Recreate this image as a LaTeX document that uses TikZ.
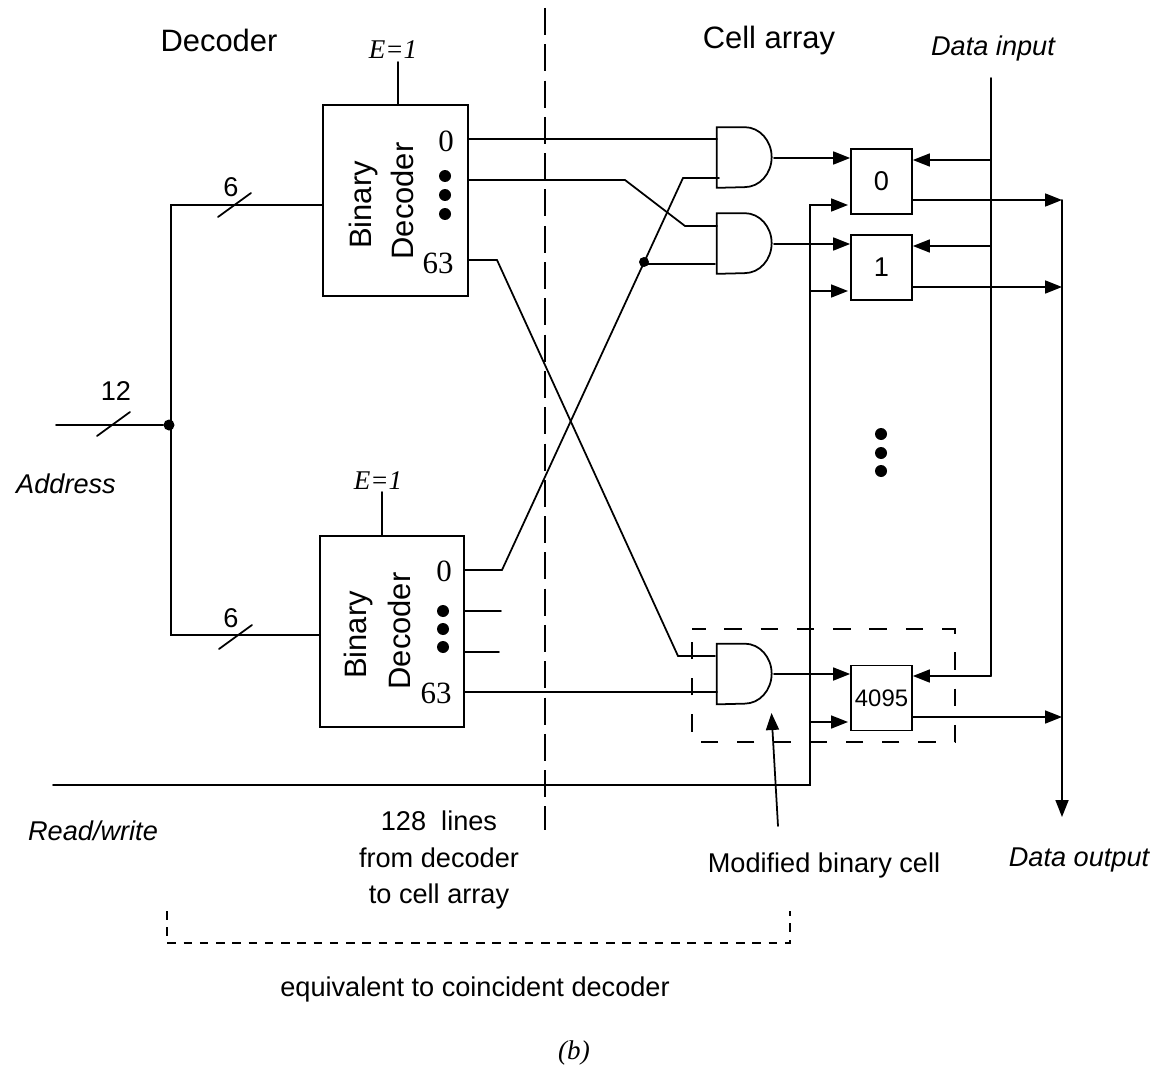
\documentclass[tikz,border=0pt]{standalone}
\usepackage{fontspec}
\setmainfont{Liberation Sans}
\newfontfamily\timesfont{Liberation Serif}
\usetikzlibrary{arrows.meta}
\newcommand{\bigtext}{\fontsize{17.6pt}{21pt}\selectfont}
\newcommand{\midtext}{\fontsize{15.45pt}{20.8pt}\selectfont}
\newcommand{\smalltext}{\fontsize{13.6pt}{16pt}\selectfont}
\newcommand{\numtext}{\fontsize{17.6pt}{20pt}\selectfont\timesfont}
\newcommand{\enabletext}{\fontsize{15.4pt}{18pt}\selectfont\timesfont\itshape}
\newcommand{\andshape}[1]{\draw[wire] (#1.north west) -- ++(28,0)
  arc[start angle=90,end angle=-90,x radius=0.54cm,y radius=0.6cm] -- (#1.south west) -- cycle;}
\tikzset{
  wire/.style={line width=1pt,line cap=round},
  arrowwire/.style={wire,-{Triangle[length=0.34cm,width=0.26cm]}},
  decoderbox/.style={draw,line width=1pt,minimum width=2.9cm,minimum height=3.82cm,inner sep=0pt},
  cellbox/.style={draw,line width=1pt,minimum width=1.22cm,minimum height=1.3cm,inner sep=0pt},
  andbox/.style={minimum width=1.1cm,minimum height=1.2cm,inner sep=0pt},
  junction/.style={circle,fill,inner sep=0pt,minimum size=0.22cm},
  blob/.style={circle,fill,inner sep=0pt,minimum size=0.24cm},
  splitdash/.style={line width=1pt,dash pattern=on 0.54cm off 0.186cm},
  celldash/.style={line width=1pt,dash pattern=on 0.35cm off 0.376cm,dash phase=0.08cm},
  bracedash/.style={line width=1pt,dash pattern=on 0.17cm off 0.155cm},
}
\begin{document}
\begin{tikzpicture}[x=0.02cm,y=-0.02cm]
  \useasboundingbox (0,0) rectangle (1157,1068);
  % decoders
  \node[decoderbox] (dectop) at (395.5,200.5) {};
  \node[decoderbox,minimum width=2.88cm] (decbot) at (392,631.5) {};
  \node[rotate=90,font=\bigtext] (binarytop) at (364,205) {Binary};
  \node[rotate=90,font=\bigtext] (codertop) at (402,201) {Decoder};
  \node[rotate=90,font=\bigtext] (binarybot) at (359,635) {Binary};
  \node[rotate=90,font=\bigtext] (coderbot) at (399,631) {Decoder};
  \node[font=\numtext] (zerotop) at (446,141) {0};
  \node[font=\numtext] (lasttop) at (438,263) {63};
  \node[font=\numtext] (zerobot) at (444,571) {0};
  \node[font=\numtext] (lastbot) at (436,693) {63};
  \foreach \y [count=\i] in {176,195,214} \node[blob] (dottop\i) at (445,\y) {};
  \foreach \y [count=\i] in {611,629,647} \node[blob] (dotbot\i) at (443,\y) {};
  % gates and cells
  \node[andbox] (andzero) at (744.5,157.5) {};
  \node[andbox] (andone) at (744.5,243.5) {};
  \node[andbox] (andlast) at (744.5,674) {};
  \andshape{andzero}
  \andshape{andone}
  \andshape{andlast}
  \node[cellbox,font=\midtext] (cellzero) at (881.5,181.5) {0};
  \node[cellbox,font=\midtext] (cellone) at (881.5,267.5) {1};
  \node[cellbox,font=\smalltext] (celllast) at (881.5,698) {4095};
  % address lines
  \coordinate (addrin) at (56,425);
  \node[junction] (addrdot) at (169,425) {};
  \coordinate (forktop) at (171,205);
  \coordinate (forkbot) at (171,635);
  \draw[wire] (addrin) -- (addrdot);
  \draw[wire] (dectop.west |- forktop) -- (forktop) -- (forkbot) -- (decbot.west |- forkbot);
  \coordinate (enabletop) at (398,62);
  \coordinate (enablebot) at (382,492);
  \draw[wire] (enabletop) -- (dectop.north -| enabletop);
  \draw[wire] (enablebot) -- (decbot.north -| enablebot);
  % slashes
  \coordinate (cuta) at (97,436);
  \coordinate (cutb) at (130,412);
  \coordinate (cutc) at (218,217);
  \coordinate (cutd) at (251,193);
  \coordinate (cute) at (219,649);
  \coordinate (cutf) at (252,625);
  \draw[wire] (cuta) -- (cutb);
  \draw[wire] (cutc) -- (cutd);
  \draw[wire] (cute) -- (cutf);
  % decoder to gates
  \coordinate (inzeroa) at (717,139);
  \coordinate (inzerob) at (719,178);
  \coordinate (inonea) at (717,226);
  \coordinate (inoneb) at (715,264);
  \coordinate (inlasta) at (715,656);
  \coordinate (inlastb) at (717,692);
  \coordinate (bendb) at (625,180);
  \coordinate (bendc) at (685,226);
  \coordinate (bendd) at (497,260);
  \coordinate (bende) at (678,656);
  \coordinate (bendf) at (502,570);
  \coordinate (bendg) at (683,178);
  \node[junction,minimum size=0.2cm] (crossdot) at (644,262) {};
  \draw[wire] (dectop.east |- inzeroa) -- (inzeroa);
  \draw[wire] (dectop.east |- bendb) -- (bendb) -- (bendc) -- (inonea);
  \draw[wire] (dectop.east |- bendd) -- (bendd) -- (bende) -- (inlasta);
  \draw[wire] (decbot.east |- bendf) -- (bendf) -- (bendg) -- (inzerob);
  \draw[wire] (crossdot |- inoneb) -- (inoneb);
  \draw[wire] (decbot.east |- inlastb) -- (inlastb);
  \coordinate (stuba) at (501,611);
  \coordinate (stubb) at (499,652);
  \draw[wire] (decbot.east |- stuba) -- (stuba);
  \draw[wire] (decbot.east |- stubb) -- (stubb);
  % gates to cells
  \coordinate (outzero) at (774,158);
  \coordinate (outone) at (774,244);
  \coordinate (outlast) at (774,674);
  \draw[arrowwire] (outzero) -- (cellzero.west |- outzero);
  \draw[arrowwire] (outone) -- (cellone.west |- outone);
  \draw[arrowwire] (outlast) -- (celllast.west |- outlast);
  % read/write
  \coordinate (rwin) at (53,785);
  \coordinate (rwturn) at (810,785);
  \coordinate (rwtop) at (810,205);
  \coordinate (rwone) at (810,291);
  \coordinate (rwlast) at (810,722);
  \coordinate (rwtipa) at (848,205);
  \coordinate (rwtipb) at (848,291);
  \coordinate (rwtipc) at (848,722);
  \draw[arrowwire] (rwin) -- (rwturn) -- (rwtop) -- (rwtipa);
  \draw[arrowwire] (rwone) -- (rwtipb);
  \draw[arrowwire] (rwlast) -- (rwtipc);
  % data input
  \coordinate (datatop) at (991,78);
  \coordinate (dataa) at (991,160);
  \coordinate (datab) at (991,246);
  \coordinate (datac) at (991,676);
  \draw[wire] (datatop) -- (datac);
  \draw[arrowwire] (dataa) -- (cellzero.east |- dataa);
  \draw[arrowwire] (datab) -- (cellone.east |- datab);
  \draw[arrowwire] (datac) -- (celllast.east |- datac);
  % data output
  \coordinate (busa) at (1062,200);
  \coordinate (busb) at (1062,287);
  \coordinate (busc) at (1062,717);
  \coordinate (busend) at (1062,817);
  \draw[arrowwire] (cellzero.east |- busa) -- (busa);
  \draw[arrowwire] (cellone.east |- busb) -- (busb);
  \draw[arrowwire] (celllast.east |- busc) -- (busc);
  \draw[arrowwire] (busa) -- (busend);
  % dashed parts
  \coordinate (splita) at (545,8);
  \coordinate (splitb) at (545,830);
  \draw[splitdash] (splita) -- (splitb);
  \coordinate (cella) at (692,629);
  \coordinate (cellb) at (955,742);
  \draw[celldash] (cella) -- (cellb |- cella) -- (cellb) -- (cella |- cellb) -- cycle;
  \coordinate (bracea) at (167,911);
  \coordinate (braceb) at (167,943);
  \coordinate (bracec) at (790,943);
  \coordinate (braced) at (790,911);
  \draw[bracedash] (bracea) -- (braceb) -- (bracec) -- (braced);
  \coordinate (pointera) at (778,826);
  \coordinate (pointerb) at (771.5,713);
  \draw[arrowwire] (pointera) -- (pointerb);
  % dots between cells
  \foreach \y [count=\i] in {434,453,471} \node[blob] (morecell\i) at (881,\y) {};
  % labels
  \node[font=\bigtext] (decodertitle) at (219,40) {Decoder};
  \node[font=\bigtext] (celltitle) at (769,41) {Cell array};
  \node[font=\midtext\itshape] (datainlabel) at (993,48) {Data input};
  \node[font=\midtext\itshape] (addresslabel) at (66,484) {Address};
  \node[font=\midtext\itshape] (rwlabel) at (93,831) {Read/write};
  \node[font=\midtext\itshape] (dataoutlabel) at (1079,860) {Data output};
  \node[font=\midtext,align=center] (lineslabel) at (439,860) {128\ \ lines\\from decoder\\to cell array};
  \node[font=\midtext] (modlabel) at (824,865) {Modified binary cell};
  \node[font=\midtext] (equivlabel) at (475,989) {equivalent to coincident decoder};
  \node[font=\enabletext] (enablelabtop) at (393,50) {E=1};
  \node[font=\enabletext] (enablelabbot) at (378,481) {E=1};
  \node[font=\midtext] (twelve) at (116,391) {12};
  \node[font=\midtext] (sixtop) at (231,187) {6};
  \node[font=\midtext] (sixbot) at (231,618) {6};
  \node[font=\enabletext] (caption) at (574,1053) {(b)};
\end{tikzpicture}
\end{document}
